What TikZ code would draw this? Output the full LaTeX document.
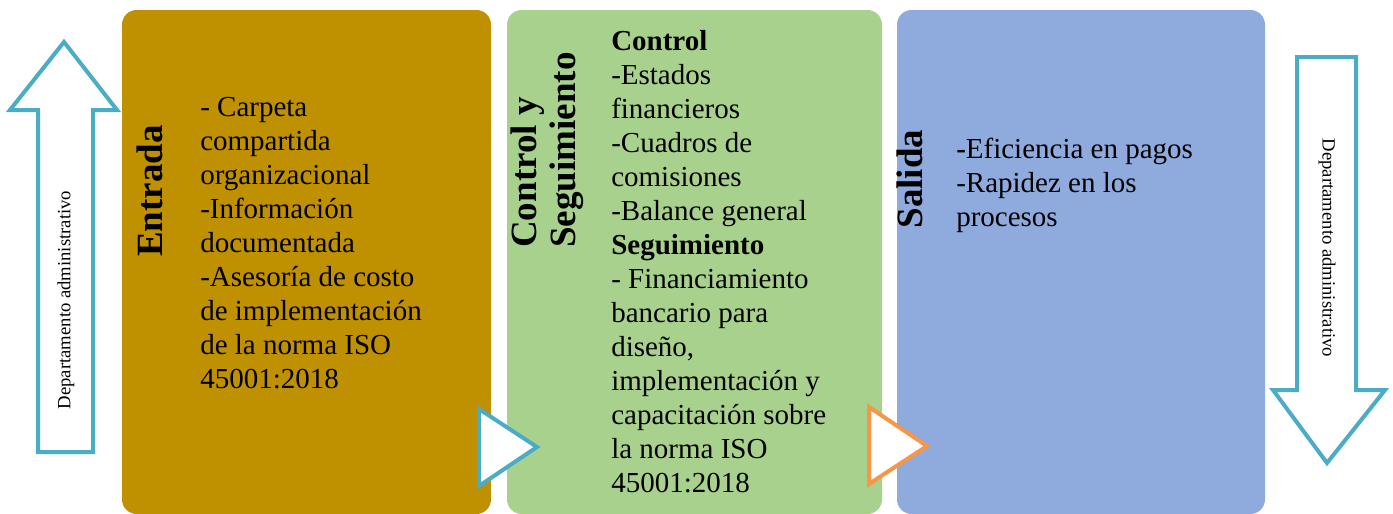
\documentclass[tikz,border=0pt]{standalone}
\usepackage{fontspec}
\setmainfont{Liberation Serif}
\usepackage{tikz}
\usetikzlibrary{positioning}
\definecolor{entradagold}{HTML}{BF9000}
\definecolor{controlgreen}{HTML}{A9D18E}
\definecolor{salidablue}{HTML}{8FAADC}
\definecolor{arrowteal}{HTML}{4BACC6}
\definecolor{pointorange}{HTML}{F79646}
\tikzset{
    block/.style={rectangle, rounded corners=11pt, minimum height=378pt, inner sep=0pt},
    title/.style={rotate=90, align=left, inner sep=0pt, font=\fontsize{27.75}{29.5}\selectfont\bfseries},
    body/.style={anchor=north west, align=left, inner sep=0pt, font=\fontsize{21.75}{25.5}\selectfont},
    dept/.style={inner sep=0pt, font=\fontsize{14}{16}\selectfont},
    bigarrow/.style={draw=arrowteal, line width=3pt, fill=white},
    pointer/.style={line width=3pt, fill=white, line join=miter}
}

\begin{document}
\begin{tikzpicture}[x=0.75pt, y=-0.75pt]
            \useasboundingbox (0,0) rectangle (1393,514);

            \node[block, fill=entradagold, minimum width=276.75pt] (entrada) at (306.5,262) {};
            \node[block, fill=controlgreen, minimum width=281.25pt] (control) at (694.5,262) {};
            \node[block, fill=salidablue, minimum width=276pt] (salida) at (1081,262) {};

            \draw[bigarrow] (38,452) -- (38,110) -- (10,110) -- (64,42) -- (117,110) -- (93,110) -- (93,452) -- cycle;
            \draw[bigarrow] (1297,57) -- (1356,57) -- (1356,390) -- (1385,390) -- (1327,463) -- (1273,390) -- (1297,390) -- cycle;
            \node[dept, rotate=90] (deptin) at (66,300) {Departamento administrativo};
            \node[dept, rotate=-90] (deptout) at (1327,248) {Departamento administrativo};

            \draw[pointer, draw=arrowteal] (479,409) -- (537,447) -- (479,486) -- cycle;
            \draw[pointer, draw=pointorange] (869,407) -- (927,446) -- (869,484) -- cycle;

            \node[title] (entradatitle) at (150,191) {Entrada};
            \node[title, anchor=west] (controltitle) at (547,248) {Control y\\Seguimiento};
            \node[title] (salidatitle) at (910,179) {Salida};

            \node[body] (entradatext) at (200,97) {- Carpeta\\compartida\\organizacional\\-Información\\documentada\\-Asesoría de costo\\de implementación\\de la norma ISO\\45001:2018};
            \node[body] (controltext) at (611,30) {\textbf{Control}\\-Estados\\financieros\\-Cuadros de\\comisiones\\-Balance general\\\textbf{Seguimiento}\\- Financiamiento\\bancario para\\diseño,\\implementación y\\capacitación sobre\\la norma ISO\\45001:2018};
            \node[body] (salidatext) at (956,138) {\textbf{-}Eficiencia en pagos\\-Rapidez en los\\procesos};
        \end{tikzpicture}
\end{document}
